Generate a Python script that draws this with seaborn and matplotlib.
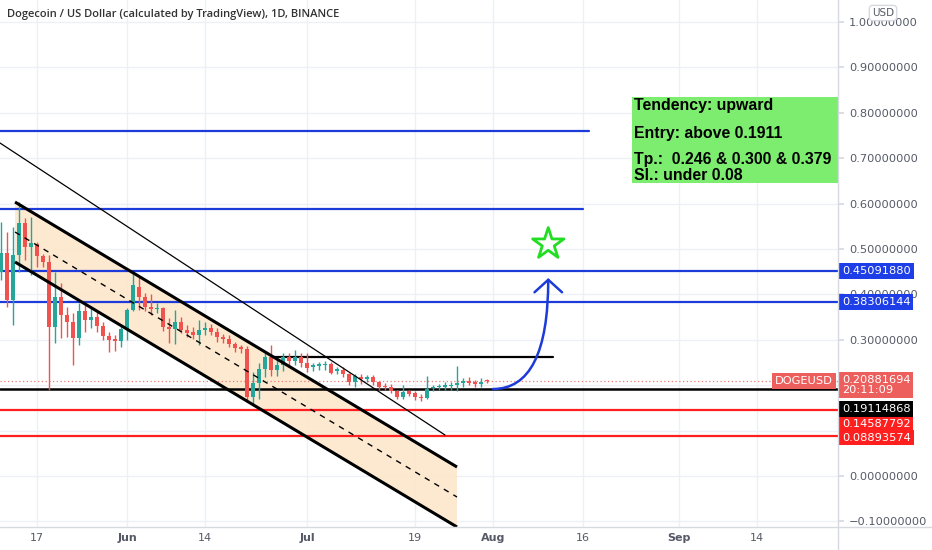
import numpy as np
import pandas as pd
import matplotlib
matplotlib.use("Agg")
import matplotlib.pyplot as plt
import matplotlib.dates as mdates
from matplotlib.patches import Rectangle, FancyArrowPatch, Polygon
from matplotlib.lines import Line2D
import seaborn as sns

# -----------------------------
# Data
# -----------------------------
first_day = "2021-05-11"
opens = [0.449, 0.491, 0.388, 0.487, 0.557, 0.504, 0.511, 0.484, 0.471, 0.328,
         0.394, 0.354, 0.339, 0.304, 0.363, 0.343, 0.350, 0.330, 0.308, 0.302,
         0.298, 0.324, 0.366, 0.416, 0.394, 0.372, 0.368, 0.370, 0.328, 0.324,
         0.339, 0.322, 0.317, 0.311, 0.322, 0.326, 0.317, 0.306, 0.302, 0.291,
         0.284, 0.279, 0.175, 0.205, 0.235, 0.262, 0.234, 0.244, 0.262, 0.254,
         0.262, 0.250, 0.241, 0.243, 0.244, 0.246, 0.231, 0.234, 0.224, 0.208,
         0.219, 0.213, 0.217, 0.206, 0.199, 0.197, 0.187, 0.174, 0.187, 0.183,
         0.175, 0.172, 0.193, 0.195, 0.197, 0.198, 0.200, 0.205, 0.210, 0.206,
         0.203, 0.210]
highs = [0.559, 0.537, 0.548, 0.604, 0.568, 0.570, 0.515, 0.490, 0.487, 0.449,
         0.425, 0.372, 0.359, 0.381, 0.376, 0.370, 0.361, 0.339, 0.317, 0.310,
         0.333, 0.370, 0.449, 0.440, 0.403, 0.400, 0.380, 0.372, 0.348, 0.366,
         0.350, 0.333, 0.328, 0.344, 0.339, 0.335, 0.326, 0.313, 0.310, 0.295,
         0.289, 0.286, 0.230, 0.248, 0.270, 0.288, 0.260, 0.270, 0.272, 0.278,
         0.272, 0.270, 0.250, 0.252, 0.254, 0.252, 0.240, 0.240, 0.228, 0.225,
         0.225, 0.223, 0.222, 0.210, 0.204, 0.203, 0.190, 0.200, 0.190, 0.188,
         0.181, 0.220, 0.200, 0.203, 0.206, 0.207, 0.243, 0.215, 0.218, 0.211,
         0.216, 0.213]
lows = [0.432, 0.372, 0.333, 0.449, 0.476, 0.443, 0.460, 0.460, 0.190, 0.293,
        0.304, 0.306, 0.245, 0.289, 0.317, 0.326, 0.317, 0.300, 0.273, 0.275,
        0.284, 0.300, 0.364, 0.366, 0.363, 0.354, 0.360, 0.320, 0.293, 0.290,
        0.315, 0.306, 0.302, 0.289, 0.311, 0.310, 0.295, 0.293, 0.284, 0.273,
        0.271, 0.165, 0.155, 0.170, 0.218, 0.220, 0.220, 0.232, 0.240, 0.244,
        0.240, 0.230, 0.232, 0.233, 0.233, 0.224, 0.224, 0.218, 0.200, 0.195,
        0.203, 0.206, 0.200, 0.190, 0.190, 0.183, 0.170, 0.170, 0.176, 0.167,
        0.165, 0.170, 0.187, 0.190, 0.190, 0.190, 0.187, 0.197, 0.200, 0.197,
        0.196, 0.205]
closes = [0.491, 0.388, 0.487, 0.557, 0.504, 0.513, 0.484, 0.471, 0.328, 0.394,
          0.354, 0.339, 0.304, 0.363, 0.343, 0.350, 0.330, 0.308, 0.300, 0.297,
          0.324, 0.366, 0.420, 0.394, 0.372, 0.368, 0.371, 0.328, 0.324, 0.339,
          0.322, 0.315, 0.311, 0.322, 0.326, 0.317, 0.306, 0.302, 0.291, 0.282,
          0.279, 0.175, 0.205, 0.235, 0.262, 0.233, 0.244, 0.262, 0.254, 0.262,
          0.250, 0.238, 0.245, 0.246, 0.247, 0.227, 0.235, 0.224, 0.208, 0.220,
          0.213, 0.218, 0.206, 0.196, 0.195, 0.187, 0.174, 0.185, 0.181, 0.174,
          0.172, 0.192, 0.196, 0.198, 0.200, 0.201, 0.205, 0.209, 0.205, 0.203,
          0.208, 0.20881694]

# drawn levels
last_price = 0.20881694
level_blue_full = [0.45091880, 0.38306144]
level_black = 0.19114868
level_red = [0.14587792, 0.08893574]
blue_short = [0.760, 0.588]
blue_short_end = ["2021-08-17", "2021-08-16"]
black_short = 0.262
black_short_span = ["2021-06-25 05:00", "2021-08-11"]

# descending channel and trend line
channel_dates = ["2021-05-13 08:00", "2021-07-26"]
channel_upper = [0.6035, 0.0198]
channel_lower = [0.4714, -0.1123]
trend_dates = ["2021-05-10 20:00", "2021-07-24"]
trend_prices = [0.7335, 0.0903]

# projection arrow + star
arrow_from = ("2021-08-01", 0.1916)
arrow_to = ("2021-08-10 05:00", 0.436)
star_at = ("2021-08-10 05:00", 0.511)

tick_dates = ["2021-05-17", "2021-06-01", "2021-06-14", "2021-07-01", "2021-07-19",
              "2021-08-01", "2021-08-16", "2021-09-01", "2021-09-14"]
tick_labels = ["17", "Jun", "14", "Jul", "19", "Aug", "16", "Sep", "14"]

note_lines = ["Tendency: upward", "Entry: above 0.1911",
              "Tp.:  0.246 & 0.300 & 0.379", "Sl.: under 0.08"]

# -----------------------------
# Style
# -----------------------------
sns.set_theme(style="white")
plt.rcParams["font.family"] = ["DejaVu Sans"]

UP = "#26a69a"
DOWN = "#ef5350"
BLUE = "#1c3bd8"
RED = "#ff1f1f"
GRID = "#eef0f5"
AXIS = "#d6d9e0"
TXT = "#555a66"

W, H = 932, 550
fig = plt.figure(figsize=(W / 100, H / 100), dpi=100)
ax = fig.add_axes([0, 1 - 527 / H, 838 / W, 527 / H])

def dn(s):
    return mdates.date2num(pd.Timestamp(s))

days = pd.date_range(first_day, periods=len(opens), freq="D")
x = mdates.date2num(days)
o = np.array(opens)
c = np.array(closes)
colors = [UP if cc >= oo else DOWN for oo, cc in zip(o, c)]

x0 = dn("2021-05-17") - 6.17
x1 = dn("2021-05-17") + 133.5
ax.set_xlim(x0, x1)
ax.set_ylim(-0.1123, 1.0485)

# grid
for t in tick_dates:
    ax.axvline(dn(t), color=GRID, lw=1, zorder=0)
for v in np.arange(-0.1, 1.05, 0.1):
    ax.axhline(v, color=GRID, lw=1, zorder=0)

# channel fill and lines
cx = [dn(d) for d in channel_dates]
mid = [(a + b) / 2 for a, b in zip(channel_upper, channel_lower)]
ax.add_patch(Polygon([(cx[0], channel_upper[0]), (cx[1], channel_upper[1]),
                      (cx[1], channel_lower[1]), (cx[0], channel_lower[0])],
                     closed=True, fc="#fde6c8", ec="none", alpha=0.85, zorder=1))
ax.plot(cx, channel_upper, color="black", lw=2.2, zorder=4, solid_capstyle="butt")
ax.plot(cx, channel_lower, color="black", lw=2.2, zorder=4, solid_capstyle="butt")
ax.plot(cx, mid, color="black", lw=1, ls=(0, (4, 4)), zorder=4)
ax.plot([dn(d) for d in trend_dates], trend_prices, color="black", lw=0.9, zorder=4)

# candles
ax.vlines(x, lows, highs, colors=colors, lw=1, zorder=3)
body = np.where(np.abs(c - o) < 0.003, 0.003, np.abs(c - o))
ax.bar(x, body, bottom=np.minimum(o, c), width=0.68, color=colors, zorder=3, linewidth=0)

# horizontal levels
for v, end in zip(blue_short, blue_short_end):
    ax.plot([x0, dn(end)], [v, v], color=BLUE, lw=1.6, zorder=2)
for v in level_blue_full:
    ax.axhline(v, color=BLUE, lw=1.6, zorder=2)
ax.plot([dn(d) for d in black_short_span], [black_short] * 2, color="black", lw=1.6, zorder=2)
ax.axhline(level_black, color="black", lw=1.8, zorder=2)
for v in level_red:
    ax.axhline(v, color=RED, lw=1.6, zorder=2)
ax.axhline(last_price, color="#f07a78", lw=0.9, ls=(0, (1, 2)), zorder=2)

# arrow and star
arrow = FancyArrowPatch((dn(arrow_from[0]), arrow_from[1]), (dn(arrow_to[0]), arrow_to[1]),
                        connectionstyle="angle3,angleA=0,angleB=90",
                        arrowstyle="->,head_length=0.5,head_width=0.55", mutation_scale=18,
                        color=BLUE, lw=1.8, shrinkA=0, shrinkB=0, zorder=5)
ax.add_patch(arrow)
sns.scatterplot(x=[dn(star_at[0])], y=[star_at[1]], marker="*", s=560,
                facecolor="none", edgecolor="#22dd22", linewidth=2, ax=ax, zorder=5)

# note box
box_left = dn("2021-08-24 05:00")
ax.add_patch(Rectangle((box_left, 0.6454), x1 - box_left, 0.835 - 0.6454,
                       fc="#7ced6f", ec="none", zorder=5))
for s, v in zip(note_lines, [0.8155, 0.7555, 0.697, 0.662]):
    ax.text(box_left + 0.3, v, s, fontsize=11.4, fontweight="bold", color="black",
            family=["Liberation Sans"], va="center", ha="left", zorder=6)

# axes styling
ax.yaxis.tick_right()
ax.set_yticks(np.round(np.arange(-0.1, 1.05, 0.1), 1))
ax.yaxis.set_major_formatter(plt.FuncFormatter(
    lambda v, p: "" if round(v, 1) in (0.1, 0.2) else f"{v:.8f}".replace("-", "\u2212")))
ax.tick_params(axis="y", length=4, color=AXIS, labelsize=8.2, labelcolor=TXT, pad=4)
ax.set_xticks([dn(t) for t in tick_dates])
ax.set_xticklabels(tick_labels)
ax.tick_params(axis="x", length=0, labelsize=8, labelcolor=TXT, pad=4)
for lab in ax.get_xticklabels():
    if lab.get_text() in ("Jun", "Jul", "Aug", "Sep"):
        lab.set_fontweight("bold")
for side in ("top", "left", "bottom", "right"):
    ax.spines[side].set_visible(False)

fig.add_artist(Line2D([838 / W, 838 / W], [0, 1], color=AXIS, lw=1))
fig.add_artist(Line2D([0, 1], [1 - 527 / H, 1 - 527 / H], color=AXIS, lw=1))

# price labels on the axis
def price_tag(value, text, fc, dy=0, tc="white"):
    ax.annotate(text, xy=(1, value), xycoords=("axes fraction", "data"),
                xytext=(4, dy), textcoords="offset pixels", va="center", ha="left",
                fontsize=8.2, color=tc, annotation_clip=False, zorder=10,
                bbox=dict(boxstyle="square,pad=0.25", fc=fc, ec="none"))

price_tag(level_blue_full[0], "0.45091880", "#1e3fe8")
price_tag(level_blue_full[1], "0.38306144", "#1e3fe8")
price_tag(level_red[1], "0.08893574", RED, dy=-2)
price_tag(level_red[0], "0.14587792", RED, dy=-14)
price_tag(level_black, "0.19114868", "black", dy=-20)
ax.annotate("0.20881694\n20:11:09", xy=(1, last_price), xycoords=("axes fraction", "data"),
            xytext=(4, 6), textcoords="offset pixels", va="top", ha="left",
            fontsize=8.2, color="white", linespacing=1.0, annotation_clip=False, zorder=10,
            bbox=dict(boxstyle="square,pad=0.25", fc="#ec5f5c", ec="none"))
ax.annotate("DOGEUSD", xy=(1, last_price), xycoords=("axes fraction", "data"),
            xytext=(-5, 0), textcoords="offset pixels", va="center", ha="right",
            fontsize=8.2, color="white", annotation_clip=False, zorder=10,
            bbox=dict(boxstyle="square,pad=0.25", fc="#ec5f5c", ec="none"))

# title and currency badge
fig.text(7 / W, 1 - 14 / H, "Dogecoin / US Dollar (calculated by TradingView), 1D, BINANCE",
         fontsize=8, color="#333333", fontweight="semibold", family=["Open Sans"], va="center")
fig.text(883 / W, 1 - 13 / H, "USD", fontsize=7.5, color=TXT, ha="center", va="center",
         bbox=dict(boxstyle="round,pad=0.25,rounding_size=0.3", fc="white", ec=AXIS))

fig.savefig("out.png", dpi=100)
